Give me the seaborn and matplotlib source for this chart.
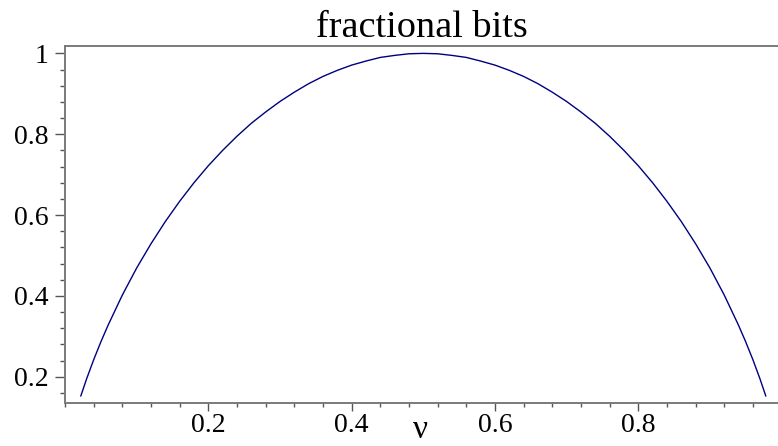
import matplotlib
matplotlib.use("Agg")
import matplotlib.pyplot as plt
from matplotlib.ticker import MultipleLocator, FixedLocator
import seaborn as sns
import pandas as pd

# Values
nu = [0.022, 0.03, 0.04, 0.05, 0.06, 0.08, 0.10, 0.12, 0.14, 0.16, 0.18, 0.20,
      0.22, 0.24, 0.26, 0.28, 0.30, 0.32, 0.34, 0.36, 0.38, 0.40, 0.42, 0.44,
      0.46, 0.48, 0.50, 0.52, 0.54, 0.56, 0.58, 0.60, 0.62, 0.64, 0.66, 0.68,
      0.70, 0.72, 0.74, 0.76, 0.78, 0.80, 0.82, 0.84, 0.86, 0.88, 0.90, 0.92,
      0.94, 0.95, 0.96, 0.97, 0.978]
bits = [0.152, 0.194, 0.242, 0.286, 0.327, 0.402, 0.469, 0.529, 0.584, 0.634, 0.680, 0.722,
        0.760, 0.795, 0.827, 0.855, 0.881, 0.904, 0.925, 0.943, 0.958, 0.971, 0.981, 0.990,
        0.995, 0.999, 1.000, 0.999, 0.995, 0.990, 0.981, 0.971, 0.958, 0.943, 0.925, 0.904,
        0.881, 0.855, 0.827, 0.795, 0.760, 0.722, 0.680, 0.634, 0.584, 0.529, 0.469, 0.402,
        0.327, 0.286, 0.242, 0.194, 0.152]
x_ticks = [0.2, 0.4, 0.6, 0.8]
x_tick_labels = ["0.2", "0.4", "0.6", "0.8"]
y_ticks = [0.2, 0.4, 0.6, 0.8, 1.0]
y_tick_labels = ["0.2", "0.4", "0.6", "0.8", "1"]
title = "fractional bits"
x_label = "ν"

sns.set_theme(style="white")
plt.rcParams["font.family"] = ["Liberation Serif", "DejaVu Serif"]
plt.rcParams["text.color"] = "black"
plt.rcParams["axes.labelcolor"] = "black"

df = pd.DataFrame({"nu": nu, "bits": bits})

fig = plt.figure(figsize=(7.78, 4.46), dpi=100)
ax = fig.add_axes([65 / 778, 1 - 403 / 446, 713 / 778, (403 - 45.7) / 446])

sns.lineplot(data=df, x="nu", y="bits", ax=ax, color="#000080", linewidth=1.0)

ax.set_xlim(0.0, 0.995)
ax.set_ylim(0.135, 1.019)

ax.xaxis.set_major_locator(FixedLocator(x_ticks))
ax.set_xticklabels(x_tick_labels)
ax.xaxis.set_minor_locator(MultipleLocator(0.04))
ax.yaxis.set_major_locator(FixedLocator(y_ticks))
ax.set_yticklabels(y_tick_labels)
ax.yaxis.set_minor_locator(MultipleLocator(0.04))

ax.tick_params(axis="both", which="both", direction="out", colors="#555555",
               labelcolor="black", labelsize=20, width=1.0)
ax.tick_params(axis="x", which="major", length=5.5, pad=2)
ax.tick_params(axis="x", which="minor", length=3)
ax.tick_params(axis="y", which="major", length=7, pad=5)
ax.tick_params(axis="y", which="minor", length=3.5)
ax.tick_params(bottom=True, left=True, which="both")

for side in ["left", "bottom", "top"]:
    ax.spines[side].set_visible(True)
    ax.spines[side].set_color("#7a7a7a")
    ax.spines[side].set_linewidth(1.4)
ax.spines["right"].set_visible(False)

ax.set_title(title, fontsize=27.5, pad=6, color="black")
ax.set_xlabel(x_label, fontsize=24, color="black")
ax.xaxis.label.set_verticalalignment("baseline")
ax.xaxis.set_label_coords(0.499, -(438 - 403) / 357.3)
ax.set_ylabel("")

fig.savefig("out.png", dpi=100)
